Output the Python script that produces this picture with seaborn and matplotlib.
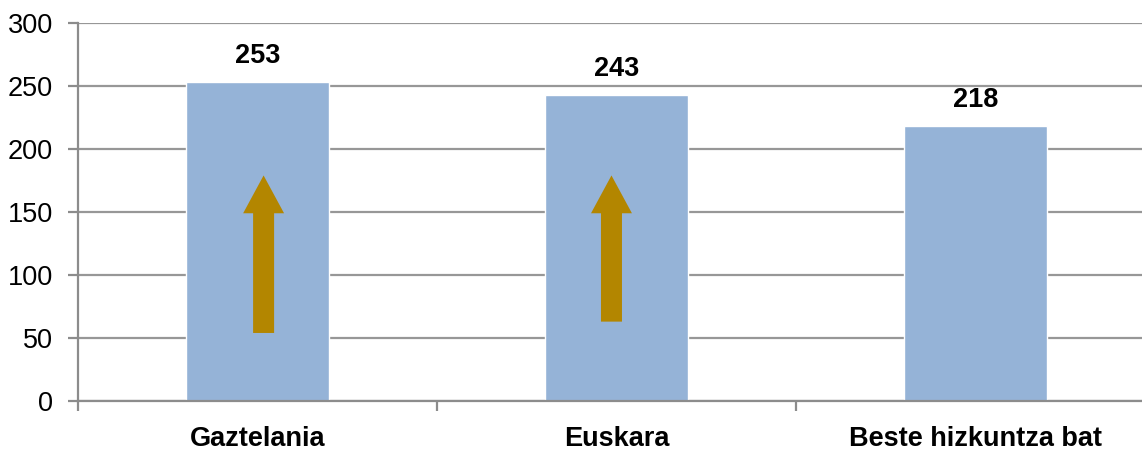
import pandas as pd
import matplotlib.pyplot as plt
import seaborn as sns
from matplotlib.patches import FancyArrow

categories = ["Gaztelania", "Euskara", "Beste hizkuntza bat"]
values = [253, 243, 218]
y_ticks = [0, 50, 100, 150, 200, 250, 300]

# up arrows drawn inside the first two bars (value range)
arrow_bars = [0, 1]
arrow_start = [54, 63]
arrow_end = [179, 179]


def main():
    sns.set_style("white")
    plt.rcParams['font.family'] = ['Liberation Sans', 'DejaVu Sans']
    plt.rcParams['text.color'] = 'black'

    df = pd.DataFrame({"cat": categories, "val": values})
    fig = plt.figure(figsize=(11.42, 4.5), dpi=100)
    ax = fig.add_axes([78 / 1142, 49 / 450, 1077 / 1142, 378 / 450])

    sns.barplot(data=df, x="cat", y="val", color="#95B3D7", width=0.4,
                saturation=1, ax=ax)
    ax.bar_label(ax.containers[0], padding=9.5, fontsize=19.5, fontweight="bold",
                 color="black")

    offsets = [0.017, -0.014]
    for i, b in enumerate(arrow_bars):
        a = FancyArrow(b + offsets[i], arrow_start[i], 0, arrow_end[i] - arrow_start[i],
                       width=0.0585, head_width=0.114, head_length=30,
                       length_includes_head=True, color="#B38600", lw=0, zorder=3)
        ax.add_patch(a)

    ax.set_ylim(0, 300)
    ax.set_xlim(-0.5, 2.5)
    ax.set_yticks(y_ticks)
    ax.yaxis.grid(True, color="#979797", lw=1.6)
    ax.set_axisbelow(True)

    ax.set_xticks([-0.5, 0.5, 1.5, 2.5])
    ax.set_xticklabels([])
    ax.set_xticks([0, 1, 2], minor=True)
    ax.set_xticklabels(categories, minor=True, fontsize=19.5, fontweight="bold")
    ax.tick_params(axis="x", which="minor", length=0, pad=18, labelcolor="black")
    ax.tick_params(axis="x", which="major", length=7, width=1.6, color="#8c8c8c",
                   direction="out", bottom=True)
    ax.tick_params(axis="y", length=7, width=1.6, color="#8c8c8c", direction="out",
                   left=True, labelsize=19.5, pad=11, labelcolor="black")

    for s in ["top", "right"]:
        ax.spines[s].set_visible(False)
    for s in ["left", "bottom"]:
        ax.spines[s].set_color("#8c8c8c")
        ax.spines[s].set_linewidth(1.6)
    ax.set_xlabel("")
    ax.set_ylabel("")

    fig.savefig("out.png", dpi=100)


if __name__ == "__main__":
    main()
